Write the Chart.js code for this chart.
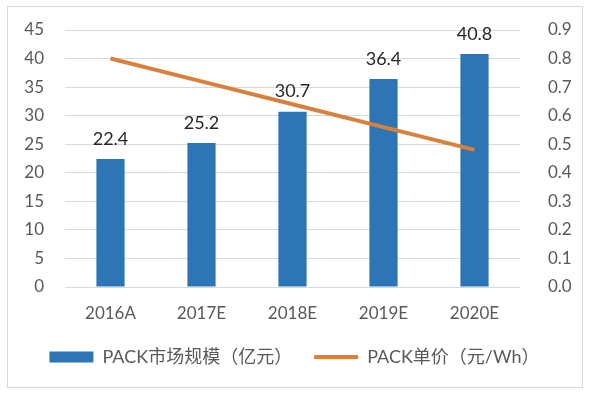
<!DOCTYPE html>
<html>
<head>
<meta charset="utf-8">
<script src="https://cdn.jsdelivr.net/npm/chart.js@4.4.1/dist/chart.umd.min.js"></script>
<style>
  html, body { margin: 0; padding: 0; background: #fff; }
  #wrap { position: relative; width: 589px; height: 395px; }
  #frame { position: absolute; left: 7px; top: 6px; width: 574px; height: 380px; border: 1px solid #d9d9d9; }
  #c { position: absolute; left: 0; top: 0; }
</style>
</head>
<body>
<div id="wrap">
  <div id="frame"></div>
  <canvas id="c" width="589" height="395"></canvas>
</div>
<script>
// data
const years = ['2016A', '2017E', '2018E', '2019E', '2020E'];
const marketSize = [22.4, 25.2, 30.7, 36.4, 40.8];      // 亿元, left axis
const unitPrice = [0.80, 0.72, 0.64, 0.56, 0.48];       // 元/Wh, right axis
const sizeLabel = 'PACK市场规模（亿元）';
const priceLabel = 'PACK单价（元/Wh）';

const FONT = 'Lato, "Noto Sans CJK SC", sans-serif';
const BLUE = '#2e75b6';
const ORANGE = '#d8813c';
const GREY = '#595959';

// value labels above the bars
const barLabels = {
    id: 'barLabels',
    afterDatasetsDraw(chart) {
        const ctx = chart.ctx;
        const meta = chart.getDatasetMeta(1); // the bar dataset
        ctx.save();
        ctx.font = '18px ' + FONT;
        ctx.fillStyle = '#262626';
        ctx.textAlign = 'center';
        ctx.textBaseline = 'middle';
        meta.data.forEach((bar, i) => {
            ctx.fillText(marketSize[i].toFixed(1), bar.x, bar.y - 20);
        });
        ctx.restore();
    }
};

// fixed axis widths, and no extra top/bottom room from the tick padding
const fixWidth = w => s => {
    s.width = w;
    s.paddingTop = 0;
    s.paddingBottom = 0;
};

new Chart(document.getElementById('c').getContext('2d'), {
    data: {
        labels: years,
        datasets: [
            {
                type: 'line',
                label: priceLabel,
                data: unitPrice,
                yAxisID: 'y1',
                borderColor: ORANGE,
                backgroundColor: ORANGE,
                borderWidth: 4,
                pointRadius: 0,
                tension: 0,
                order: 0
            },
            {
                type: 'bar',
                label: sizeLabel,
                data: marketSize,
                yAxisID: 'y',
                backgroundColor: BLUE,
                barPercentage: 0.31,
                categoryPercentage: 1,
                order: 1
            }
        ]
    },
    options: {
        responsive: false,
        animation: false,
        layout: { padding: { top: 30, right: 0, left: 0, bottom: 19 } },
        scales: {
            x: {
                grid: { display: false },
                border: { display: false },
                ticks: { color: GREY, font: { family: FONT, size: 17 }, padding: 8 },
                afterFit: s => { s.height = 39; }
            },
            y: {
                position: 'left',
                min: 0, max: 45,
                ticks: { stepSize: 5, color: GREY, font: { family: FONT, size: 17 }, padding: 21 },
                grid: { color: '#d9d9d9', lineWidth: 1, drawTicks: false },
                border: { display: false },
                afterFit: fixWidth(65)
            },
            y1: {
                position: 'right',
                min: 0, max: 0.9,
                ticks: {
                    stepSize: 0.1, color: GREY, font: { family: FONT, size: 17 }, padding: 28,
                    callback: v => v.toFixed(1)
                },
                grid: { display: false, drawTicks: false },
                border: { display: false },
                afterFit: fixWidth(69)
            }
        },
        plugins: {
            tooltip: { enabled: false },
            legend: {
                position: 'bottom',
                labels: {
                    color: GREY,
                    font: { family: FONT, size: 18 },
                    boxWidth: 44,
                    boxHeight: 11,
                    padding: 22,
                    usePointStyle: true,
                    pointStyleWidth: 44,
                    generateLabels: () => [
                        { text: sizeLabel, fillStyle: BLUE, strokeStyle: BLUE, lineWidth: 0, pointStyle: 'rect', datasetIndex: 1, fontColor: GREY },
                        { text: priceLabel, fillStyle: ORANGE, strokeStyle: ORANGE, lineWidth: 4, pointStyle: 'line', datasetIndex: 0, fontColor: GREY }
                    ]
                }
            }
        }
    },
    plugins: [barLabels]
});
</script>
</body>
</html>
